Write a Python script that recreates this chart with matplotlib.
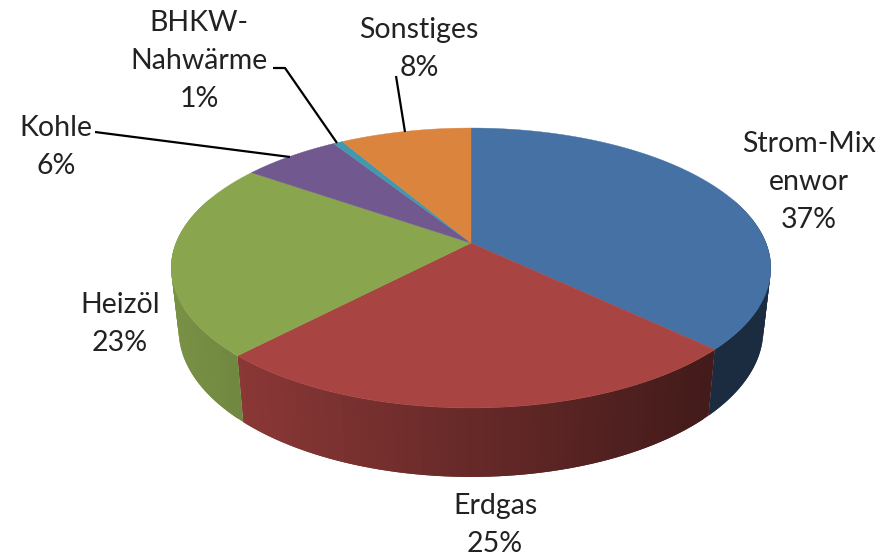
import numpy as np
import matplotlib
matplotlib.use("Agg")
import matplotlib.pyplot as plt

plt.rcParams['font.family'] = ['Lato', 'DejaVu Sans']

# pie data, percent
labels = ['Strom-Mix\nenwor', 'Erdgas', 'Heizöl', 'Kohle', 'BHKW-\nNahwärme', 'Sonstiges']
values = [37.1, 25.0, 22.6, 6.3, 0.6, 8.4]
colors = ['#4571a5', '#a84442', '#89a54e', '#71588f', '#4198af', '#db843d']

label_pos = [(809, 182), (495, 525), (120, 324), (56, 147), (199, 61), (419, 49)]
leaders = [None, None, None,
           [(95, 132), (290, 157)],
           [(273, 68), (285, 68), (337, 143)],
           [(396, 76), (405, 132)]]

cx, cy = 471, 243
a, b, p = 295, 135.5, 0.1786


# tilted disc seen in perspective, theta clockwise from the top
def top_rim(theta):
    d = 1 + p * np.cos(theta)
    return cx + a * np.sin(theta) / d, cy - b * np.cos(theta) / d


def bottom_rim(theta):
    x, y = top_rim(theta)
    return cx + (x - cx) * 0.975, cy + (y - cy) * 1.05 + 60.7


def shade(color, x):
    f = np.clip(0.82 - (x - 240) / 460 * 0.41, 0.39, 0.92)
    return np.array(matplotlib.colors.to_rgb(color)) * f


fig = plt.figure(figsize=(8.91, 5.59), dpi=100)
ax = fig.add_axes([0, 0, 1, 1])
ax.set_xlim(0, 891)
ax.set_ylim(559, 0)
ax.axis('off')

edges = np.radians(np.cumsum([0] + values) * 3.6)

# side wall first, strips overlap the next one so no seams show
for i in range(len(values)):
    lo, hi = max(edges[i], np.radians(70)), min(edges[i + 1], np.radians(290))
    if hi <= lo:
        continue
    steps = np.linspace(lo, hi, max(2, int((hi - lo) * 40)))
    for j in range(len(steps) - 1):
        t0, t1 = steps[j], steps[min(j + 2, len(steps) - 1)]
        t = np.linspace(t0, t1, 5)
        x0, y0 = top_rim(t)
        x1, y1 = bottom_rim(t[::-1])
        c = shade(colors[i], top_rim(steps[j])[0])
        ax.fill(np.r_[x0, x1], np.r_[y0, y1], color=c, lw=0, zorder=1)

# top face
for i in range(len(values)):
    t = np.linspace(edges[i], edges[i + 1], 120)
    x, y = top_rim(t)
    ax.fill(np.r_[cx, x], np.r_[cy, y], color=colors[i], lw=0.3, zorder=2)

for name, val, pos in zip(labels, values, label_pos):
    ax.text(pos[0], pos[1], f"{name}\n{val:.0f}%", ha='center', va='center',
            fontsize=20.5, color='#222222', linespacing=1.57, clip_on=False)

for line in leaders:
    if line:
        xs, ys = zip(*line)
        ax.plot(xs, ys, color='black', lw=1.6, zorder=3, solid_capstyle='butt')

fig.savefig('out.png', dpi=100)
